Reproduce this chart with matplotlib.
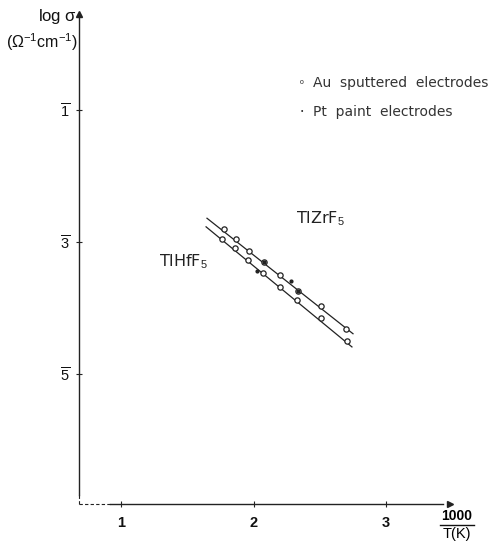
import matplotlib
matplotlib.use("Agg")
import matplotlib.pyplot as plt

# ---- data ----
zr_x = [1.777, 1.868, 1.966, 2.079, 2.200, 2.336, 2.509, 2.698]
zr_y = [-2.80, -2.95, -3.14, -3.30, -3.50, -3.74, -3.97, -4.32]
hf_x = [1.762, 1.860, 1.958, 2.072, 2.200, 2.328, 2.509, 2.706]
hf_y = [-2.95, -3.09, -3.27, -3.47, -3.68, -3.88, -4.15, -4.50]
pt_x = [2.026, 2.283, 2.079, 2.336]
pt_y = [-3.44, -3.59, -3.30, -3.74]
zr_line_x = [1.649, 2.751]
zr_line_y = [-2.64, -4.39]
hf_line_x = [1.642, 2.743]
hf_line_y = [-2.77, -4.59]
xticks = [1, 2, 3]
xticklabels = ["1", "2", "3"]
yticks = [-1, -3, -5]
yticklabels = [r"$\overline{1}$", r"$\overline{3}$", r"$\overline{5}$"]

plt.rcParams['font.family'] = ['Liberation Sans', 'DejaVu Sans']
plt.rcParams['mathtext.fontset'] = 'custom'
plt.rcParams['mathtext.rm'] = 'Liberation Sans'
plt.rcParams['mathtext.it'] = 'Liberation Sans'

fig = plt.figure(figsize=(4.94, 5.43), dpi=100)
ax = fig.add_axes([79/494, 39/543, 371/494, 490/543])
xmin, xmax = 0.683, 3.483
ymin, ymax = -6.97, 0.455
ax.set_xlim(xmin, xmax)
ax.set_ylim(ymin, ymax)
for s in ax.spines.values():
    s.set_visible(False)

lc = "#222222"
# axes lines
ax.plot([xmin, xmin], [-6.83, ymax - 0.05], color=lc, lw=1.0, clip_on=False)
ax.plot([xmin, xmin], [ymin, -6.83], color=lc, lw=0.8, ls=(0, (3, 2)), clip_on=False)
ax.plot([0.92, xmax - 0.05], [ymin, ymin], color=lc, lw=1.0, clip_on=False)
ax.plot([xmin, 0.92], [ymin, ymin], color=lc, lw=0.8, ls=(0, (3, 2)), clip_on=False)
ax.plot([xmin], [ymax], marker="^", ms=4, color=lc, clip_on=False)
ax.plot([xmax], [ymin], marker=">", ms=4, color=lc, clip_on=False)

ax.set_xticks(xticks)
ax.set_xticklabels(xticklabels)
ax.set_yticks(yticks)
ax.set_yticklabels(yticklabels)
ax.tick_params(direction="inout", length=5, width=0.8, color=lc,
               labelsize=10.5, labelcolor="#111111", pad=6)
ax.tick_params(axis="y", pad=4)
for t in ax.get_xticklabels() + ax.get_yticklabels():
    t.set_fontweight("bold")

# fitted lines
ax.plot(zr_line_x, zr_line_y, color=lc, lw=0.9)
ax.plot(hf_line_x, hf_line_y, color=lc, lw=0.9)
# Au sputtered points (open circles)
ax.plot(zr_x, zr_y, ls="none", marker="o", ms=3.8, mfc="white", mec=lc, mew=0.9)
ax.plot(hf_x, hf_y, ls="none", marker="o", ms=3.8, mfc="white", mec=lc, mew=0.9)
# Pt paint points (small dots)
ax.plot(pt_x, pt_y, ls="none", marker="o", ms=2.0, color=lc)

# labels
ax.text(2.32, -2.64, r"TlZrF$_5$", fontsize=11.5, color="#222222", va="center",
        family="DejaVu Sans")
ax.text(1.29, -3.30, r"TlHfF$_5$", fontsize=11.5, color="#222222", va="center",
        family="DejaVu Sans")

# legend
fig.text(302/494, 1 - 83/543, "o", fontsize=5, color="#222222", va="center", ha="center")
fig.text(313/494, 1 - 83/543, "Au  sputtered  electrodes", fontsize=10, color="#333333",
         va="center", family="DejaVu Sans")
fig.text(302/494, 1 - 112/543, "•", fontsize=5, color="#222222", va="center", ha="center")
fig.text(313/494, 1 - 112/543, "Pt  paint  electrodes", fontsize=10, color="#333333",
         va="center", family="DejaVu Sans")

# axis labels
fig.text(57/494, 1 - 16/543, r"log $\sigma$", fontsize=12, ha="center", va="center", color="#111111")
fig.text(42/494, 1 - 42/543, r"($\Omega^{-1}$cm$^{-1}$)", fontsize=11.5, ha="center", va="center", color="#111111")
fig.text(457/494, 1 - 516/543, "1000", fontsize=10, fontweight="bold", ha="center", va="center")
fig.add_artist(plt.Line2D([440/494, 474/494], [1 - 525/543, 1 - 525/543], color="#111111", lw=1.0))
fig.text(457/494, 1 - 534/543, "T(K)", fontsize=10.5, ha="center", va="center")

fig.savefig("out.png", dpi=100)
